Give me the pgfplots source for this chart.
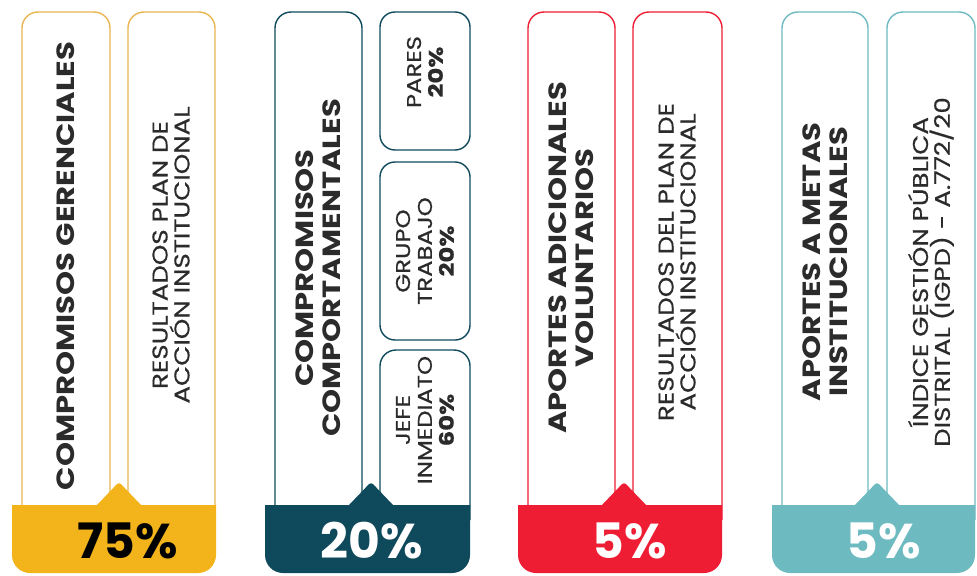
\documentclass[border=0pt]{standalone}
\usepackage{pgfplots}
\pgfplotsset{compat=1.18}
\usepackage{fontspec}
\setmainfont{Poppins}
\newfontfamily\anchafont[FakeStretch=1.23]{Poppins}
\newfontfamily\subfont[FakeStretch=1.22, FakeBold=0.5]{Poppins}
\definecolor{oro}{HTML}{F2B31B}
\definecolor{oroborde}{HTML}{E9B652}
\definecolor{petroleo}{HTML}{0F4A5C}
\definecolor{rojo}{HTML}{EF1D33}
\definecolor{turquesa}{HTML}{6DBAC0}
\definecolor{texto}{HTML}{2B2B2B}

% caja con esquinas superiores redondeadas (la base queda bajo la banda)
\newcommand{\caja}[4]{% x izq, x der, y sup, color
  \draw[#4, line width=1.4bp, fill=white, rounded corners=16bp]
    (axis cs:#1,520) -- (axis cs:#1,#3) -- (axis cs:#2,#3) -- (axis cs:#2,520);}
% banda inferior con el pico
\newcommand{\banda}[6]{% x izq, x der, pico-izq, pico, pico-der, color
  \fill[#6] (axis cs:#1,505) -- (axis cs:#3,505) [rounded corners=3bp] -- (axis cs:#4,482)
    [sharp corners] -- (axis cs:#5,505) -- (axis cs:#2,505)
    [rounded corners=18bp] -- (axis cs:#2,573) -- (axis cs:#1,573) [sharp corners] -- cycle;}

\begin{document}
\begin{tikzpicture}
\begin{axis}[
    width=977bp, height=576bp, scale only axis,
    hide axis, clip=false,
    xmin=0, xmax=977, ymin=0, ymax=576,
    y dir=reverse,
  ]
  \fill[white] (axis cs:0,0) rectangle (axis cs:977,576);

  % --- columna 1: compromisos gerenciales 75%
  \caja{22}{110}{12}{oroborde}
  \caja{128}{215}{12}{oroborde}
  \banda{12}{216}{97}{119}{141}{oro}
  % --- columna 2: compromisos comportamentales 20%
  \caja{275}{362}{12}{petroleo}
  \draw[petroleo, line width=1.4bp, fill=white, rounded corners=15bp]
    (axis cs:380,12) rectangle (axis cs:470,150);
  \draw[petroleo, line width=1.4bp, fill=white, rounded corners=15bp]
    (axis cs:380,162) rectangle (axis cs:470,340);
  \caja{380}{470}{350}{petroleo}
  \banda{265}{470}{349}{371}{393}{petroleo}
  % --- columna 3: aportes adicionales 5%
  \caja{528}{615}{12}{rojo}
  \caja{633}{722}{12}{rojo}
  \banda{518}{722}{602}{624}{646}{rojo}
  % --- columna 4: aportes a metas 5%
  \caja{782}{868}{12}{turquesa}
  \caja{887}{975}{12}{turquesa}
  \banda{772}{975}{855}{877}{899}{turquesa}

  % textos verticales
  \tikzset{tit/.style={rotate=90, text=texto, font=\anchafont\bfseries\fontsize{25}{27}\selectfont, align=center},
           sub/.style={rotate=90, text=texto, font=\subfont\fontsize{21.5}{22}\selectfont, align=center},
           peq/.style={rotate=90, text=texto, font=\subfont\fontsize{20}{22}\selectfont, align=center}}
  \node[tit] at (axis cs:66,266) {COMPROMISOS GERENCIALES};
  \node[sub] at (axis cs:171,255) {RESULTADOS PLAN DE\\ACCIÓN INSTITUCIONAL};
  \node[tit] at (axis cs:318,268) {COMPROMISOS\\COMPORTAMENTALES};
  \node[peq] at (axis cs:425,72) {PARES\\\textbf{20\%}};
  \node[peq] at (axis cs:425,251) {GRUPO\\TRABAJO\\\textbf{20\%}};
  \node[peq] at (axis cs:425,420) {JEFE\\INMEDIATO\\\textbf{60\%}};
  \node[tit] at (axis cs:571,258) {APORTES ADICIONALES\\VOLUNTARIOS};
  \node[sub] at (axis cs:677,262) {RESULTADOS DEL PLAN DE\\ACCIÓN INSTITUCIONAL};
  \node[tit] at (axis cs:825,262) {APORTES A METAS\\INSTITUCIONALES};
  \node[sub] at (axis cs:931,272) {ÍNDICE GESTIÓN PÚBLICA\\DISTRITAL (IGPD) - A.772/20};

  % porcentajes
  \tikzset{pct/.style={inner sep=0pt, font=\bfseries\fontsize{49}{49}\selectfont}}
  \node[pct, text=black] at (axis cs:128,541) {75\%};
  \node[pct, text=white] at (axis cs:372,541) {20\%};
  \node[pct, text=white] at (axis cs:630,541) {5\%};
  \node[pct, text=white] at (axis cs:884,541) {5\%};
\end{axis}
\end{tikzpicture}
\end{document}
